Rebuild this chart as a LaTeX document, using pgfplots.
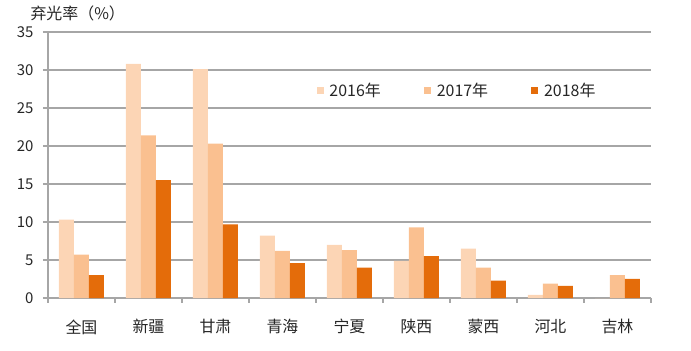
\documentclass[border=0pt]{standalone}
\usepackage{fontspec}
\setmainfont{Noto Sans CJK SC}
\usepackage{pgfplots}
\pgfplotsset{compat=1.18}
\definecolor{c16}{HTML}{FCD5B5}
\definecolor{c17}{HTML}{FAC090}
\definecolor{c18}{HTML}{E46C0A}
\definecolor{gridc}{HTML}{A6A6A6}
\definecolor{txt}{HTML}{262626}
\begin{document}
\begin{tikzpicture}
\path[use as bounding box] (-48bp,-53bp) rectangle (643bp,298bp);
\begin{axis}[
  at={(0,0)}, anchor=south west,
  scale only axis, width=603bp, height=266bp,
  xmin=-0.5, xmax=8.5, ymin=0, ymax=35,
  ytick={0,5,...,35},
  xtick={0,...,8},
  xticklabels={全国,新疆,甘肃,青海,宁夏,陕西,蒙西,河北,吉林},
  minor xtick={-0.5,0.5,...,8.5},
  axis x line*=bottom, axis y line*=left,
  axis line style={draw=gridc, line width=1.1bp, -},
  ymajorgrids, grid style={draw=gridc, line width=1.1bp},
  tick align=outside,
  major tick length=5bp, minor tick length=5bp,
  major x tick style={draw=none},
  minor x tick style={draw=gridc, line width=1.1bp},
  y tick style={draw=gridc, line width=1.1bp},
  /pgf/number format/assume math mode=true,
  yticklabel style={font=\fontsize{15}{16}\selectfont, text=txt, xshift=-6bp},
  xticklabel style={font=\fontsize{16}{17}\selectfont, text=txt, yshift=-13bp},
  ybar=0pt, bar width=15bp,
  clip=false,
  legend style={at={(rel axis cs:0.44,0.78)}, anchor=west, draw=none, fill=none,
    font=\fontsize{16}{17}\selectfont, text=txt,
    /tikz/every odd column/.append style={column sep=4bp},
    /tikz/every even column/.append style={column sep=41bp}},
  legend columns=-1,
  legend image code/.code={\fill (0bp,-3.5bp) rectangle (7bp,3.5bp);},
]
\addplot[fill=c16, draw=none] coordinates {(0,10.3) (1,30.8) (2,30.1) (3,8.2) (4,7.0) (5,4.9) (6,6.5) (7,0.4) (8,0)};
\addplot[fill=c17, draw=none] coordinates {(0,5.7) (1,21.4) (2,20.3) (3,6.2) (4,6.3) (5,9.3) (6,4.0) (7,1.9) (8,3.0)};
\addplot[fill=c18, draw=none] coordinates {(0,3.0) (1,15.5) (2,9.7) (3,4.6) (4,4.0) (5,5.5) (6,2.3) (7,1.6) (8,2.5)};
\legend{2016年,2017年,2018年}
\node[anchor=west, font=\fontsize{16}{17}\selectfont, text=txt] at (rel axis cs:0,1) [xshift=-21bp, yshift=19bp] {弃光率（\%）};
\end{axis}
\end{tikzpicture}
\end{document}
